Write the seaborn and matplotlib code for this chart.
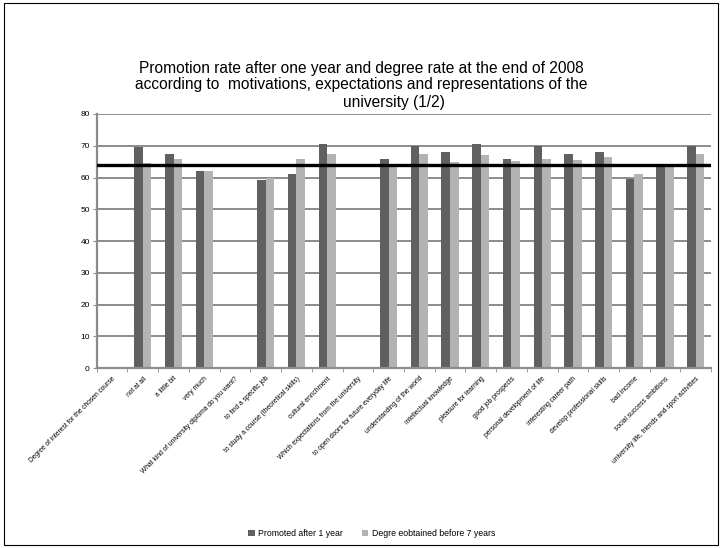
import seaborn as sns
import matplotlib.pyplot as plt
import pandas as pd
import numpy as np
from matplotlib.patches import Rectangle

categories = [
    "Degree of interest for the chosen course",
    "not at all",
    "a little bit",
    "very much",
    "What kind of university diploma do you want?",
    "to find a specific job",
    "to study a course (theoretical skills)",
    "cultural enrichment",
    "Which expectations from the university",
    "to open doors for future everyday life",
    "understanding of the world",
    "intellectual knowledge",
    "pleasure for learning",
    "good job prospects",
    "personal development of life",
    "interesting career path",
    "develop professional skills",
    "bad income",
    "social success ambitions",
    "university life, friends and sport activities",
]
promoted = [np.nan, 69.5, 67.5, 62.1, np.nan, 59.1, 61.1, 70.5, np.nan, 65.8,
            70.0, 67.9, 70.5, 65.8, 70.0, 67.4, 67.9, 59.7, 64.0, 70.0]
degree = [np.nan, 64.7, 65.9, 62.1, np.nan, 59.9, 65.9, 67.4, np.nan, 64.0,
          67.4, 64.8, 67.0, 65.3, 65.9, 65.4, 66.4, 61.2, 64.0, 67.4]
series = ["Promoted after 1 year", "Degre eobtained before 7 years"]
reference_rate = 64.1

df = pd.DataFrame({
    "category": categories * 2,
    "series": [series[0]] * len(categories) + [series[1]] * len(categories),
    "value": promoted + degree,
})

plt.rcParams['font.family'] = ['Liberation Sans', 'DejaVu Sans']
fig = plt.figure(figsize=(7.22, 5.48), dpi=100)
ax = fig.add_axes([0.134, 0.328, 0.851, 0.464])

sns.barplot(data=df, x="category", y="value", hue="series", order=categories,
            hue_order=series, palette=["#606060", "#b3b3b3"], width=0.56,
            saturation=1, ax=ax, errorbar=None)

ax.axhline(reference_rate, color="black", lw=2.4, zorder=5)

ax.set_ylim(0, 80)
ax.set_xlim(-0.5, len(categories) - 0.5)
ax.set_yticks(range(0, 81, 10))
ax.yaxis.grid(True, color="#8c8c8c", lw=1.4)
ax.set_axisbelow(True)
ax.set_xlabel("")
ax.set_ylabel("")
for s in ["top", "right"]:
    ax.spines[s].set_visible(False)
for s in ["left", "bottom"]:
    ax.spines[s].set_color("#8c8c8c")
    ax.spines[s].set_linewidth(1.6)
ax.tick_params(axis="y", labelsize=6, length=3, color="#8c8c8c", pad=2)
ax.set_xticks(np.arange(len(categories)))
ax.set_xticklabels(categories, rotation=45, ha="right", rotation_mode="anchor",
                   fontsize=4.8)
ax.tick_params(axis="x", length=0, pad=5)
ax.set_xticks(np.arange(len(categories) + 1) - 0.5, minor=True)
ax.tick_params(axis="x", which="minor", length=3, color="#8c8c8c")

fig.text(0.5, 1 - 68 / 548, "Promotion rate after one year and degree rate at the end of 2008",
         ha="center", va="center", fontsize=11.2)
fig.text(0.5, 1 - 85 / 548, "according to  motivations, expectations and representations of the",
         ha="center", va="center", fontsize=11.2)
fig.text(0.546, 1 - 102 / 548, "university (1/2)", ha="center", va="center", fontsize=11.2)

handles, labels = ax.get_legend_handles_labels()
ax.get_legend().remove()
fig.legend(handles, labels, loc="center", bbox_to_anchor=(0.515, 0.027), ncol=2,
           frameon=False, fontsize=6.3, handlelength=0.7, handleheight=0.7,
           columnspacing=2.2, handletextpad=0.4)

fig.patches.append(Rectangle((0.006, 0.006), 0.988, 0.988, transform=fig.transFigure,
                             fill=False, edgecolor="black", lw=0.8))

fig.savefig("out.png", dpi=100)
